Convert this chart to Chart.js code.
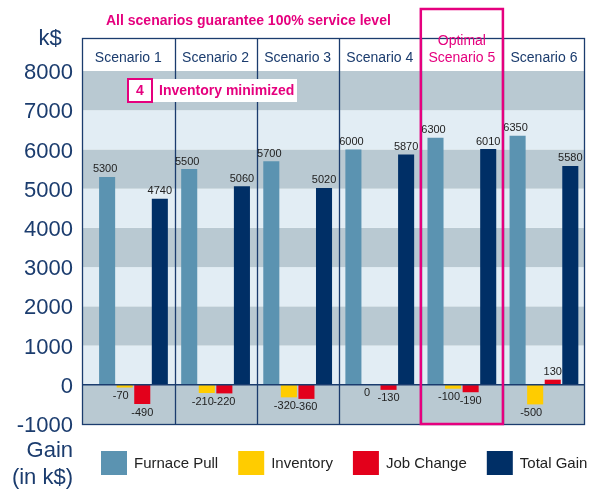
<!DOCTYPE html>
<html>
<head>
<meta charset="utf-8">
<script src="https://cdn.jsdelivr.net/npm/chart.js@4.4.1/dist/chart.umd.min.js"></script>
<style>
  body { margin: 0; background: #fff; }
  #wrap { width: 602px; height: 489px; }
</style>
</head>
<body>
<div id="wrap"><canvas id="gainChart"></canvas></div>
<script>
// 데이터
const scenarios = ["Scenario 1", "Scenario 2", "Scenario 3", "Scenario 4", "Scenario 5", "Scenario 6"];
const seriesNames = ["Furnace Pull", "Inventory", "Job Change", "Total Gain"];
const furnacePull = [5300, 5500, 5700, 6000, 6300, 6350];
const inventory = [-70, -210, -320, 0, -100, -500];
const jobChange = [-490, -220, -360, -130, -190, 130];
const totalGain = [4740, 5060, 5020, 5870, 6010, 5580];
const yTicks = [-1000, 0, 1000, 2000, 3000, 4000, 5000, 6000, 7000, 8000];
const optimalIndex = 4;
const titleText = "All scenarios guarantee 100% service level";
const noteNumber = "4";
const noteText = "Inventory minimized";

// 스타일
const NAVY = "#1b3c6e";
const PINK = "#e5007e";
const FONT = '"Liberation Sans", Arial, Helvetica, sans-serif';
const colors = ["#5b93b1", "#ffcc00", "#e3001b", "#002f66"];
const labelShift = [-2, -4, 0, 0];

function toPoints(values) {
    return values.map((v, i) => ({ x: i, y: v }));
}

/* 배경, 테두리, 라벨 */
const decor = {
    id: "decor",
    beforeDatasetsDraw(chart) {
        const { ctx, chartArea: a, scales: { x, y } } = chart;
        const headerTop = a.top - 33;
        ctx.save();
        // 가로 띠
        for (let i = 0; i < yTicks.length - 1; i++) {
            const top = y.getPixelForValue(yTicks[i + 1]);
            const bot = y.getPixelForValue(yTicks[i]);
            ctx.fillStyle = (i % 2 === 0) ? "#b9c9d2" : "#e2edf4";
            ctx.fillRect(a.left, top, a.right - a.left, bot - top);
        }
        // 시나리오 구분선
        ctx.strokeStyle = NAVY;
        ctx.lineWidth = 1.3;
        for (let k = 0; k < scenarios.length - 1; k++) {
            const px = Math.round(x.getPixelForValue(k + 0.5)) + 0.5;
            ctx.beginPath();
            ctx.moveTo(px, headerTop);
            ctx.lineTo(px, a.bottom);
            ctx.stroke();
        }
        ctx.strokeRect(a.left + 0.5, headerTop + 0.5, a.right - a.left - 1, a.bottom - headerTop);
        ctx.restore();
    },
    afterDatasetsDraw(chart) {
        const { ctx, chartArea: a, scales: { x, y } } = chart;
        const headerTop = a.top - 33;
        ctx.save();

        // 0 기준선
        const y0 = y.getPixelForValue(0);
        ctx.strokeStyle = NAVY;
        ctx.lineWidth = 1.5;
        ctx.beginPath();
        ctx.moveTo(a.left, y0);
        ctx.lineTo(a.right, y0);
        ctx.stroke();

        // 값 라벨
        ctx.font = "11px " + FONT;
        ctx.fillStyle = "#222";
        ctx.textAlign = "center";
        chart.data.datasets.forEach((ds, di) => {
            chart.getDatasetMeta(di).data.forEach((bar, i) => {
                const v = ds.data[i].y;
                const lx = bar.x + labelShift[di];
                if (v > 0) {
                    ctx.textBaseline = "bottom";
                    ctx.fillText(String(v), lx, bar.y - 2);
                } else {
                    ctx.textBaseline = "top";
                    ctx.fillText(String(v), lx, Math.max(bar.y, y0) + 3);
                }
            });
        });

        // 시나리오 헤더
        const edges = [a.left];
        for (let k = 0; k < scenarios.length - 1; k++) edges.push(x.getPixelForValue(k + 0.5));
        edges.push(a.right);
        ctx.font = "14px " + FONT;
        ctx.textBaseline = "middle";
        scenarios.forEach((name, i) => {
            const cx = (edges[i] + edges[i + 1]) / 2;
            if (i === optimalIndex) {
                ctx.fillStyle = PINK;
                ctx.fillText("Optimal", cx, headerTop + 3);
                ctx.fillText(name, cx, headerTop + 20);
            } else {
                ctx.fillStyle = NAVY;
                ctx.fillText(name, cx, headerTop + 20);
            }
        });

        // 최적 시나리오 상자
        ctx.strokeStyle = PINK;
        ctx.lineWidth = 2.5;
        const bl = edges[optimalIndex], br = edges[optimalIndex + 1];
        ctx.strokeRect(bl, 9, br - bl, a.bottom - 9);

        // 제목
        ctx.font = "bold 14px " + FONT;
        ctx.fillStyle = PINK;
        ctx.textAlign = "left";
        ctx.fillText(titleText, 106, 21);

        // 주석 상자
        const nx = a.left + 45, ny = a.top + 7;
        ctx.fillStyle = "#fff";
        ctx.fillRect(nx + 26, ny + 1, 144, 23);
        ctx.fillRect(nx, ny, 26, 25);
        ctx.lineWidth = 2;
        ctx.strokeRect(nx + 1, ny + 1, 24, 23);
        ctx.fillStyle = PINK;
        ctx.textAlign = "center";
        ctx.fillText(noteNumber, nx + 13, ny + 13);
        ctx.textAlign = "left";
        ctx.fillText(noteText, nx + 32, ny + 13);

        // 축 제목
        ctx.font = "22px " + FONT;
        ctx.fillStyle = NAVY;
        ctx.textAlign = "center";
        ctx.fillText("k$", 50, 39);
        ctx.textAlign = "right";
        ctx.fillText("Gain", 73, 451);
        ctx.fillText("(in k$)", 73, 478);

        // 범례
        ctx.font = "15px " + FONT;
        ctx.textBaseline = "middle";
        ctx.textAlign = "left";
        let lx = 101;
        chart.data.datasets.forEach((ds) => {
            ctx.fillStyle = ds.backgroundColor;
            ctx.fillRect(lx, 451, 26, 24);
            ctx.fillStyle = "#222";
            ctx.fillText(ds.label, lx + 33, 464);
            lx += 33 + ctx.measureText(ds.label).width + 20;
        });
        ctx.restore();
    }
};

const seriesValues = [furnacePull, inventory, jobChange, totalGain];

new Chart(document.getElementById("gainChart"), {
    type: "bar",
    data: {
        datasets: seriesNames.map((name, i) => ({
            label: name,
            data: toPoints(seriesValues[i]),
            backgroundColor: colors[i],
            borderWidth: 0,
            categoryPercentage: 0.856,
            barPercentage: 0.914,
        })),
    },
    options: {
        responsive: true,
        maintainAspectRatio: false,
        animation: false,
        layout: { padding: { left: 0, right: 17, top: 71, bottom: 65 } },
        plugins: {
            legend: { display: false },
            tooltip: { enabled: false },
            title: { display: false },
        },
        scales: {
            x: {
                type: "linear",
                offset: false,
                min: -0.627,
                max: 5.5,
                display: false,
                grid: { offset: false },
                afterBuildTicks: (scale) => {
                    scale.ticks = scenarios.map((s, i) => ({ value: i }));
                },
            },
            y: {
                min: -1000,
                max: 8000,
                grid: { display: false, drawTicks: false },
                border: { display: false },
                afterBuildTicks: (scale) => {
                    scale.ticks = yTicks.map(v => ({ value: v }));
                },
                afterFit: (scale) => { scale.width = 82; },
                ticks: {
                    padding: 9,
                    labelOffset: 2,
                    color: NAVY,
                    font: { family: FONT, size: 22 },
                    callback: (v) => String(v),
                },
            },
        },
    },
    plugins: [decor],
});
</script>
</body>
</html>
